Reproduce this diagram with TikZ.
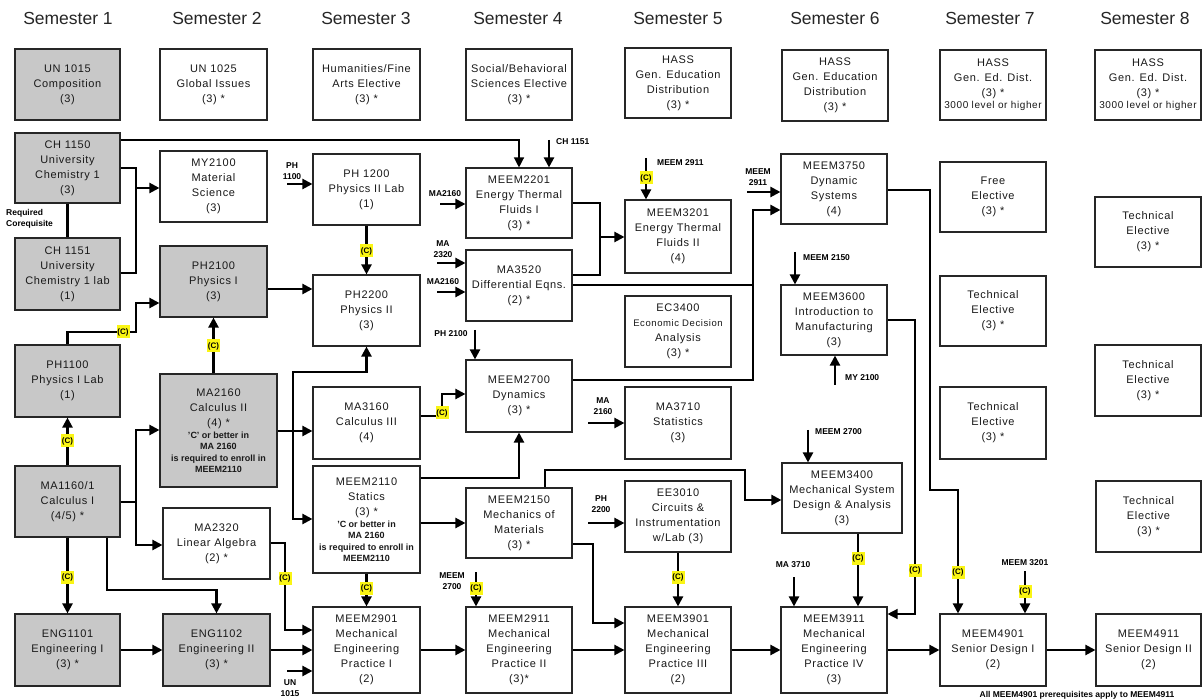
\documentclass[tikz,border=0pt]{standalone}
\usepackage{fontspec}
\setmainfont{Liberation Sans}
\newfontfamily\bx[LetterSpace=6]{Liberation Sans}
\usetikzlibrary{arrows.meta}
\definecolor{boxgray}{RGB}{200,200,200}
\definecolor{cyellow}{RGB}{250,245,20}
\newcommand\sm{\normalfont\fontsize{9}{11.5}\selectfont\bfseries}
\newcommand\course[6][]{%
  \pgfmathsetmacro\crsX{(#2+#4)/2}%
  \pgfmathsetmacro\crsY{(#3+#5)/2}%
  \pgfmathsetmacro\crsW{#4-#2}%
  \pgfmathsetmacro\crsH{#5-#3}%
  \node[box,minimum width=\crsW pt,minimum height=\crsH pt,#1] (#6) at (\crsX,\crsY)}
\tikzset{
  box/.style={draw=black!85, line width=1.1pt, fill=white, align=center, inner sep=1pt,
    font=\bx\fontsize{11}{15}\selectfont, text=black!90},
  gbox/.style={fill=boxgray},
  hdr/.style={font=\fontsize{17.5}{20}\selectfont, text=black!85, inner sep=0pt},
  lab/.style={font=\fontsize{8.5}{11}\selectfont\bfseries, align=center, inner sep=0pt},
  cmark/.style={fill=cyellow, font=\fontsize{8}{8}\selectfont\bfseries, inner sep=0.5pt,
    minimum width=13pt, minimum height=13pt},
  conn/.style={draw=black, line width=2.2pt},
  tconn/.style={draw=black, line width=1.3pt},
  ahead/.style={-{Triangle[length=10pt,width=10pt]}},
}
\begin{document}
\begin{tikzpicture}[x=1pt,y=-1pt]
\fill[white] (0,0) rectangle (1203,700);
\useasboundingbox (0,0) rectangle (1203,700);

% headers
\node[hdr] (s1) at (68,18) {Semester 1};
\node[hdr] (s2) at (217,18) {Semester 2};
\node[hdr] (s3) at (366,18) {Semester 3};
\node[hdr] (s4) at (518,18) {Semester 4};
\node[hdr] (s5) at (678,18) {Semester 5};
\node[hdr] (s6) at (835,18) {Semester 6};
\node[hdr] (s7) at (990,18) {Semester 7};
\node[hdr] (s8) at (1145,18) {Semester 8};

% row 1
\course[gbox]{15}{49}{120}{120}{un1015}{UN 1015\\Composition\\(3)};
\course{160}{49}{267}{120}{un1025}{UN 1025\\Global Issues\\(3) *};
\course{313}{49}{420}{120}{hum}{Humanities/Fine\\Arts Elective\\(3) *};
\course{466}{49}{572}{120}{soc}{Social/Behavioral\\Sciences Elective\\(3) *};
\course{625}{48}{731}{118}{hass5}{HASS\\Gen. Education\\Distribution\\(3) *};
\course{782}{50}{888}{121}{hass6}{HASS\\Gen. Education\\Distribution\\(3) *};
\course{940}{50}{1046}{120}{hass7}{HASS\\Gen. Ed. Dist.\\(3) *\\[-3pt]{\fontsize{10}{12}\selectfont 3000 level or higher}};
\course{1095}{50}{1201}{120}{hass8}{HASS\\Gen. Ed. Dist.\\(3) *\\[-3pt]{\fontsize{10}{12}\selectfont 3000 level or higher}};

% row 2
\course[gbox]{15}{133}{120}{203}{ch1150}{CH 1150\\University\\Chemistry 1\\(3)};
\course{160}{151}{267}{222}{my2100}{MY2100\\Material\\Science\\(3)};
\course{313}{154}{420}{225}{ph1200}{PH 1200\\Physics II Lab\\(1)};
\course{466}{168}{572}{238}{meem2201}{MEEM2201\\Energy Thermal\\Fluids I\\(3) *};
\course{625}{200}{731}{273}{meem3201}{MEEM3201\\Energy Thermal\\Fluids II\\(4)};
\course{781}{154}{887}{224}{meem3750}{MEEM3750\\Dynamic\\Systems\\(4)};
\course{940}{162}{1046}{232}{free7}{Free\\Elective\\(3) *};
\course{1095}{197}{1201}{267}{te8a}{Technical\\Elective\\(3) *};

% row 3
\course[gbox]{15}{238}{120}{310}{ch1151}{CH 1151\\University\\Chemistry 1 lab\\(1)};
\course[gbox]{160}{246}{267}{317}{ph2100}{PH2100\\Physics I\\(3)};
\course{313}{275}{420}{346}{ph2200}{PH2200\\Physics II\\(3)};
\course{466}{250}{572}{321}{ma3520}{MA3520\\Differential Eqns.\\(2) *};
\course{625}{296}{731}{367}{ec3400}{EC3400\\{\fontsize{9.5}{12}\selectfont Economic Decision}\\Analysis\\(3) *};
\course{781}{285}{887}{355}{meem3600}{MEEM3600\\Introduction to\\Manufacturing\\(3)};
\course{940}{276}{1046}{346}{te7a}{Technical\\Elective\\(3) *};

% row 4
\course[gbox]{15}{345}{120}{417}{ph1100}{PH1100\\Physics I Lab\\(1)};
\course[gbox]{160}{374}{277}{487}{ma2160}{MA2160\\Calculus II\\(4) *\\[-3pt]{\sm 'C' or better in}\\[-3.5pt]{\sm MA 2160}\\[-3.5pt]{\sm is required to enroll in}\\[-3.5pt]{\sm MEEM2110}};
\course{313}{387}{420}{459}{ma3160}{MA3160\\Calculus III\\(4)};
\course{466}{360}{572}{432}{meem2700}{MEEM2700\\Dynamics\\(3) *};
\course{625}{387}{731}{459}{ma3710}{MA3710\\Statistics\\(3)};
\course{940}{387}{1046}{459}{te7b}{Technical\\Elective\\(3) *};
\course{1095}{345}{1201}{416}{te8b}{Technical\\Elective\\(3) *};

% row 5
\course[gbox]{15}{466}{120}{537}{ma1160}{MA1160/1\\Calculus I\\(4/5) *};
\course{163}{508}{270}{579}{ma2320}{MA2320\\Linear Algebra\\(2) *};
\course{313}{466}{420}{573}{meem2110}{MEEM2110\\Statics\\(3) *\\[-3pt]{\sm 'C or better in}\\[-3.5pt]{\sm MA 2160}\\[-3.5pt]{\sm is required to enroll in}\\[-3.5pt]{\sm MEEM2110}};
\course{466}{488}{572}{558}{meem2150}{MEEM2150\\Mechanics of\\Materials\\(3) *};
\course{625}{481}{731}{552}{ee3010}{EE3010\\Circuits \&\\Instrumentation\\w/Lab (3)};
\course{782}{463}{902}{533}{meem3400}{MEEM3400\\Mechanical System\\Design \& Analysis\\(3)};
\course{1096}{481}{1201}{552}{te8c}{Technical\\Elective\\(3) *};

% row 6
\course[gbox]{15}{614}{120}{686}{eng1101}{ENG1101\\Engineering I\\(3) *};
\course[gbox]{163}{614}{270}{686}{eng1102}{ENG1102\\Engineering II\\(3) *};
\course{313}{607}{420}{693}{meem2901}{MEEM2901\\Mechanical\\Engineering\\Practice I\\(2)};
\course{466}{607}{572}{693}{meem2911}{MEEM2911\\Mechanical\\Engineering\\Practice II\\(3)*};
\course{625}{607}{731}{693}{meem3901}{MEEM3901\\Mechanical\\Engineering\\Practice III\\(2)};
\course{781}{607}{887}{693}{meem3911}{MEEM3911\\Mechanical\\Engineering\\Practice IV\\(3)};
\course{940}{614}{1046}{686}{meem4901}{MEEM4901\\Senior Design I\\(2)};
\course{1096}{614}{1201}{686}{meem4911}{MEEM4911\\Senior Design II\\(2)};

% ---------- connectors ----------
\draw[tconn,ahead] (ch1150.east |- 0,140) -| (meem2201.north);
\coordinate (pch1151) at (549,140);
\draw[conn,ahead] (pch1151) -- (pch1151 |- meem2201.north);

\draw[conn,ahead] (ch1150.east |- 0,168) -| (136,188) -- (my2100.west |- 0,188);
\draw[conn] (ch1151.east |- 0,273) -| (136,188);
\draw[conn] (ch1150.south) -- (ch1151.north);

\draw[conn,ahead] (ph1100.north) |- (136,332) |- (ph2100.west |- 0,303);
\draw[conn,ahead] (ma2160.north -| ph2100.south) -- (ph2100.south);
\draw[conn,ahead] (ma1160.north) -- (ph1100.south);

\coordinate (j1) at (136,502);
\draw[conn] (ma1160.east |- j1) -- (j1);
\draw[conn,ahead] (j1) |- (ma2160.west |- 0,430);
\draw[conn,ahead] (j1) |- (ma2320.west |- 0,545);

\draw[conn,ahead] (ma1160.south) -- (eng1101.north);
\draw[conn,ahead] (ma1160.south -| 107,0) |- (eng1102.north |- 0,590) -- (eng1102.north);
\draw[conn,ahead] (eng1101.east) -- (eng1102.west);
\draw[conn,ahead] (eng1102.east) -- (meem2901.west);
\draw[conn,ahead] (ma2320.east |- 0,543) -| (285,630) -- (meem2901.west |- 0,630);
\coordinate (pun) at (287,671);
\draw[conn,ahead] (pun) -- (meem2901.west |- pun);

\coordinate (j2) at (293,431);
\draw[conn,ahead] (ma2160.east |- j2) -- (ma3160.west |- j2);
\draw[conn,ahead] (j2) |- (ph2200.south |- 0,372) -- (ph2200.south);
\draw[conn,ahead] (j2) |- (meem2110.west |- 0,519);

\draw[conn,ahead] (ph2100.east |- 0,289) -- (ph2200.west |- 0,289);
\draw[conn,ahead] (ph1200.south) -- (ph2200.north);
\coordinate (pph1100) at (287,184);
\draw[conn,ahead] (pph1100) -- (ph1200.west |- pph1100);

\coordinate (pma1) at (440,204);
\draw[conn,ahead] (pma1) -- (meem2201.west |- pma1);
\coordinate (pma2) at (437,263);
\draw[conn,ahead] (pma2) -- (ma3520.west |- pma2);
\coordinate (pma3) at (437,292);
\draw[conn,ahead] (pma3) -- (ma3520.west |- pma3);
\coordinate (pph2100) at (475,330);
\draw[conn,ahead] (pph2100) -- (pph2100 |- meem2700.north);

\draw[conn,ahead] (ma3160.east |- 0,416) -| (442,394) -- (meem2700.west |- 0,394);
\draw[conn,ahead] (meem2110.east |- 0,478) -| (meem2700.south);
\draw[conn,ahead] (meem2110.east |- 0,523) -- (meem2150.west |- 0,523);
\draw[conn,ahead] (meem2110.south) -- (meem2901.north);
\draw[conn,ahead] (meem2901.east) -- (meem2911.west);
\coordinate (pm2700a) at (476,572);
\draw[conn,ahead] (pm2700a) -- (pm2700a |- meem2911.north);

\draw[conn,ahead] (meem2150.north -| 545,0) |- (745,470) |- (meem3400.west |- 0,500);
\draw[conn,ahead] (meem2150.east |- 0,544) -| (593,623) -- (meem3901.west |- 0,623);
\draw[conn,ahead] (meem2911.east) -- (meem3901.west);
\coordinate (pph2200) at (588,523);
\draw[conn,ahead] (pph2200) -- (ee3010.west |- pph2200);
\draw[conn,ahead] (ee3010.south) -- (meem3901.north);
\draw[conn,ahead] (meem3901.east) -- (meem3911.west);
\coordinate (pma3710) at (794,577);
\draw[conn,ahead] (pma3710) -- (pma3710 |- meem3911.north);
\draw[conn,ahead] (meem3400.south -| 858,0) -- (meem3911.north -| 858,0);
\draw[tconn,ahead] (meem3600.east |- 0,320) -| (915,614) -- (meem3911.east |- 0,614);
\draw[conn,ahead] (meem3750.east |- 0,190) -| (930,490) -| (meem4901.north -| 958,0);
\coordinate (pm3201) at (1025,571);
\draw[conn,ahead] (pm3201) -- (pm3201 |- meem4901.north);
\draw[conn,ahead] (meem3911.east) -- (meem4901.west);
\draw[conn,ahead] (meem4901.east) -- (meem4911.west);

\coordinate (pm2911a) at (646,158);
\draw[conn,ahead] (pm2911a) -- (pm2911a |- meem3201.north);
\coordinate (pm2911b) at (747,192);
\draw[conn,ahead] (pm2911b) -- (meem3750.west |- pm2911b);
\coordinate (pm2150) at (795,252);
\draw[conn,ahead] (pm2150) -- (pm2150 |- meem3600.north);
\coordinate (pmy2100) at (835,385);
\draw[conn,ahead] (pmy2100) -- (pmy2100 |- meem3600.south);
\coordinate (pma2160b) at (588,423);
\draw[conn,ahead] (pma2160b) -- (ma3710.west |- pma2160b);
\coordinate (pm2700b) at (808,430);
\draw[conn,ahead] (pm2700b) -- (pm2700b |- meem3400.north);

\draw[conn,ahead] (meem2201.east |- 0,203) -| (600,237) -- (meem3201.west |- 0,237);
\draw[conn] (ma3520.east |- 0,275) -| (600,237);
\draw[conn,ahead] (ma3520.east |- 0,285) -| (753,210) -- (meem3750.west |- 0,210);
\draw[conn] (meem2700.east |- 0,380) -| (753,285);

% ---------- (C) marks ----------
\node[cmark] (c1) at (123,332) {(C)};
\node[cmark] (c2) at (213.5,346) {(C)};
\node[cmark] (c3) at (67.5,441) {(C)};
\node[cmark] (c4) at (67.5,577) {(C)};
\node[cmark] (c5) at (285,578) {(C)};
\node[cmark] (c6) at (366.5,251) {(C)};
\node[cmark] (c7) at (442,413) {(C)};
\node[cmark] (c8) at (366.5,588) {(C)};
\node[cmark] (c9) at (476,588) {(C)};
\node[cmark] (c10) at (678,577) {(C)};
\node[cmark] (c11) at (858,558) {(C)};
\node[cmark] (c12) at (915,570) {(C)};
\node[cmark] (c13) at (958,572) {(C)};
\node[cmark] (c14) at (1025,591) {(C)};
\node[cmark] (c15) at (646,178) {(C)};

% ---------- labels ----------
\node[lab,anchor=west] (lch1151) at (556,142) {CH 1151};
\node[lab,anchor=west,align=left] (lcoreq) at (6,219) {Required\\Corequisite};
\node[lab] (lun) at (290,688) {UN\\1015};
\node[lab] (lph1100) at (292,171) {PH\\1100};
\node[lab] (lma1) at (445,194) {MA2160};
\node[lab] (lma2) at (443,249) {MA\\2320};
\node[lab] (lma3) at (443,282) {MA2160};
\node[lab] (lph2100) at (451,334) {PH 2100};
\node[lab] (lm2700a) at (452,581) {MEEM\\2700};
\node[lab] (lph2200) at (601,504) {PH\\2200};
\node[lab] (lma3710) at (793,565) {MA 3710};
\node[lab] (lm3201) at (1025,563) {MEEM 3201};
\node[lab,anchor=west] (lm2911a) at (657,163) {MEEM 2911};
\node[lab] (lm2911b) at (758,177) {MEEM\\2911};
\node[lab,anchor=west] (lm2150) at (803,258) {MEEM 2150};
\node[lab,anchor=west] (lmy2100) at (845,378) {MY 2100};
\node[lab] (lma2160b) at (603,406) {MA\\2160};
\node[lab,anchor=west] (lm2700b) at (815,432) {MEEM 2700};
\node[lab] (note) at (1077,695) {All MEEM4901 prerequisites apply to MEEM4911};
\end{tikzpicture}
\end{document}
